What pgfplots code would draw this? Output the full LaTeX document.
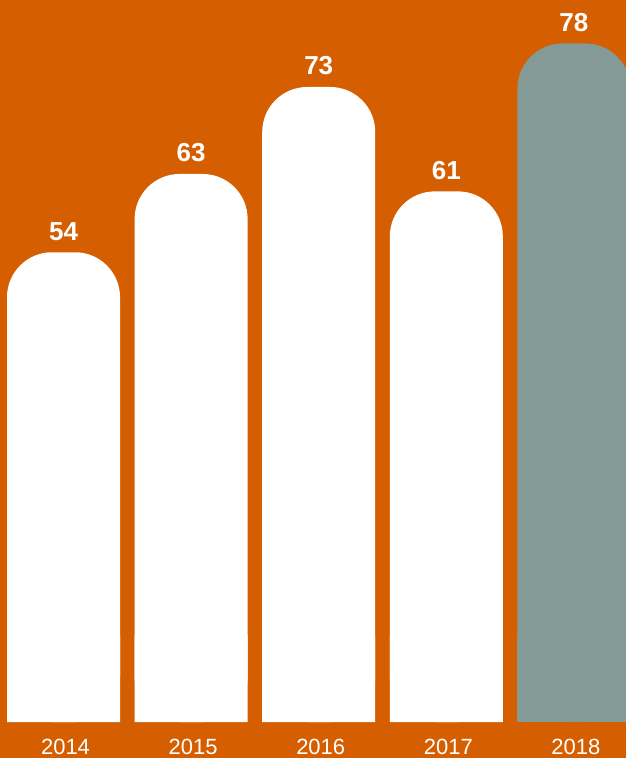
\documentclass[border=0pt]{standalone}
\usepackage{pgfplots}
\pgfplotsset{compat=1.18}
\usepackage{fontspec}
\setmainfont{Liberation Sans}
\definecolor{bgorange}{HTML}{D55F00}
\definecolor{bargray}{HTML}{839A97}
\begin{document}
\begin{tikzpicture}
\fill[bgorange] (0,0) rectangle (626bp,758bp);
\begin{axis}[
  at={(0,36bp)}, anchor=south west,
  scale only axis, width=626bp, height=722bp,
  xmin=-0.4977, xmax=4.408, ymin=0, ymax=83,
  axis line style={draw=none},
  ytick=\empty,
  xtick={0,1,2,3,4},
  xticklabels={2014,2015,2016,2017,2018},
  major tick length=0pt,
  xticklabel style={text=white, font=\fontsize{22bp}{24bp}\selectfont, anchor=base, yshift=-32bp, xshift=2bp, inner sep=0pt},
  ybar, bar width=113bp, bar shift=0pt,
  /pgf/number format/assume math mode=true,
  nodes near coords style={font=\bfseries\fontsize{26bp}{30bp}\selectfont, text=white, anchor=base, yshift=12bp, inner sep=0pt},
]
\addplot[fill=white, draw=none] coordinates {(0,10) (1,10) (2,10) (3,10)};
\addplot[fill=bargray, draw=none] coordinates {(4,10)};
\addplot[fill=white, draw=none, rounded corners=45bp, nodes near coords] coordinates {(0,54) (1,63) (2,73) (3,61)};
\addplot[fill=bargray, draw=none, rounded corners=45bp, nodes near coords] coordinates {(4,78)};
\end{axis}
\pgfresetboundingbox
\useasboundingbox (0,0) rectangle (626bp,758bp);
\end{tikzpicture}
\end{document}
